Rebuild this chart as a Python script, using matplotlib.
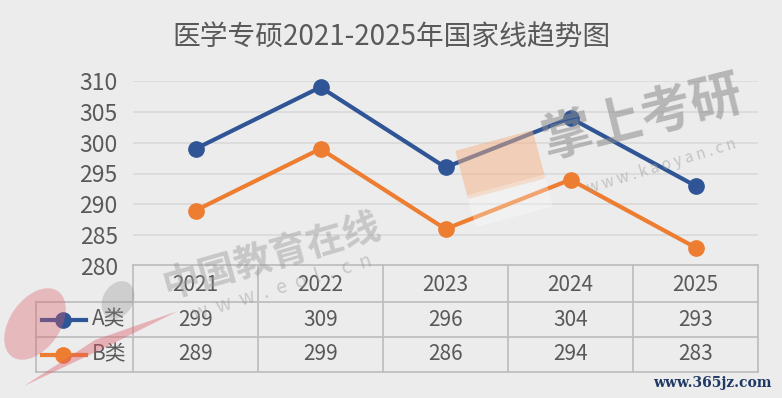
import matplotlib
matplotlib.use("Agg")
import matplotlib.pyplot as plt
from matplotlib.transforms import blended_transform_factory
from matplotlib.lines import Line2D
from matplotlib.patches import FancyBboxPatch, Ellipse, Polygon
import matplotlib.transforms as mtransforms

plt.rcParams['font.family'] = ['Noto Sans CJK SC', 'DejaVu Sans']

title = "医学专硕2021-2025年国家线趋势图"
years = ["2021", "2022", "2023", "2024", "2025"]
series_names = ["A类", "B类"]
a_values = [299, 309, 296, 304, 293]
b_values = [289, 299, 286, 294, 283]
y_ticks = [280, 285, 290, 295, 300, 305, 310]

colors = ["#2f5597", "#ed7d31"]
text_color = "#595959"
bg = "#ececec"
grid_c = "#d9d9d9"
border_c = "#bfbfbf"

W, H = 782, 398
fig = plt.figure(figsize=(W / 100, H / 100), dpi=100, facecolor=bg)

# plot area in pixels
px_left, px_right, px_top, px_bottom = 133, 758, 81, 266
ax = fig.add_axes([px_left / W, 1 - px_bottom / H, (px_right - px_left) / W, (px_bottom - px_top) / H])
ax.set_facecolor(bg)
x = list(range(len(years)))
ax.set_xlim(-0.5, len(years) - 0.5)
ax.set_ylim(y_ticks[0], y_ticks[-1])
ax.set_yticks(y_ticks)
ax.set_yticklabels([str(t) for t in y_ticks], fontsize=16.5, color=text_color)
ax.tick_params(axis='y', length=0, pad=11)
ax.set_xticks([])
for s in ax.spines.values():
    s.set_visible(False)
for t in y_ticks:
    ax.axhline(t, color=grid_c, lw=1.2, zorder=0)

for vals, c in zip([a_values, b_values], colors):
    ax.plot(x, vals, color=c, lw=3, marker='o', markersize=11, clip_on=False, zorder=3)

fig.text(0.5, 1 - 38 / H, title, ha='center', va='center', fontsize=20, color=text_color)

# data table below the axis, x in data coords, y in axes fraction
tr = blended_transform_factory(ax.transData, ax.transAxes)
ph = px_bottom - px_top
def yf(py):
    return (px_bottom - py) / ph

y_top, y_h, y_a, y_b = yf(265), yf(302), yf(337), yf(372)
x_left = -0.5 - (px_left - 36) / 125.0
x0, x1 = -0.5, len(years) - 0.5
lw_t = 1.3
def seg(xs, ys):
    ax.add_line(Line2D(xs, ys, transform=tr, color=border_c, lw=lw_t, clip_on=False, zorder=2))

seg([x0, x1], [y_top, y_top])
seg([x_left, x1], [y_h, y_h])
seg([x_left, x1], [y_a, y_a])
seg([x_left, x1], [y_b, y_b])
seg([x_left, x_left], [y_h, y_b])
for i in range(len(years) + 1):
    seg([i - 0.5, i - 0.5], [y_top, y_b])

fs_t = 15
for i, yr in enumerate(years):
    ax.text(i, (y_top + y_h) / 2 - 0.01, yr, transform=tr, ha='center', va='center', fontsize=fs_t, color=text_color)
for row, (vals, yc) in enumerate([(a_values, (y_h + y_a) / 2), (b_values, (y_a + y_b) / 2)]):
    for i, v in enumerate(vals):
        ax.text(i, yc, str(v), transform=tr, ha='center', va='center', fontsize=fs_t, color=text_color)
    # legend key
    lx0 = -0.5 - (px_left - 42) / 125.0
    lx1 = -0.5 - (px_left - 86) / 125.0
    lxm = -0.5 - (px_left - 63) / 125.0
    ax.add_line(Line2D([lx0, lx1], [yc, yc], transform=tr, color=colors[row], lw=3, clip_on=False))
    ax.add_line(Line2D([lxm], [yc], transform=tr, color=colors[row], marker='o', markersize=11, clip_on=False))
    tx = -0.5 - (px_left - 92) / 125.0
    ax.text(tx, yc, series_names[row], transform=tr, ha='left', va='center', fontsize=fs_t, color=text_color)

# ---- watermarks (drawn over the chart, semi-transparent) ----
# kaoyan icon
cx, cy = 505, 182
rot = mtransforms.Affine2D().rotate_deg_around(cx, H - cy, 15)
top_part = FancyBboxPatch((cx - 38, H - cy - 5), 76, 46, boxstyle="round,pad=2",
                          transform=rot, facecolor='#f4b183', edgecolor='none', alpha=0.5, zorder=5)
bot_part = FancyBboxPatch((cx - 38, H - cy - 34), 76, 29, boxstyle="round,pad=2",
                          transform=rot, facecolor='#ffffff', edgecolor='none', alpha=0.3, zorder=5)
fig.patches.extend([top_part, bot_part])

# eol logo (rough)
ident = mtransforms.IdentityTransform()
red_e = Ellipse((35, H - 324), 50, 80, angle=-35, transform=ident, facecolor='#dc5a66',
                edgecolor='none', alpha=0.35, zorder=5)
gray_o = Ellipse((118, H - 300), 30, 40, angle=-30, transform=ident, facecolor='#8a8a8a',
                 edgecolor='none', alpha=0.3, zorder=5)
swoosh = Polygon([(24, H - 386), (95, H - 340), (178, H - 311), (100, H - 350)], closed=True,
                 transform=ident, facecolor='#dc5a66', edgecolor='none', alpha=0.4, zorder=5)
fig.patches.extend([red_e, gray_o, swoosh])

fig.text(272 / W, 1 - 256 / H, "中国教育在线", ha='center', va='center', fontsize=27, fontweight='bold',
         color='#9a9a9a', alpha=0.45, rotation=16, zorder=6)
fig.text(282 / W, 1 - 288 / H, "w  w  w  .  e  o  l  .  c  n", ha='center', va='center', fontsize=14,
         color='#9a9a9a', alpha=0.45, rotation=17, zorder=6)
fig.text(642 / W, 1 - 118 / H, "掌上考研", ha='center', va='center', fontsize=37, fontweight='bold',
         color='#8a8a8a', alpha=0.55, rotation=14, zorder=6)
fig.text(662 / W, 1 - 166 / H, "w w w . k a o y a n . c n", ha='center', va='center', fontsize=11,
         color='#9a9a9a', alpha=0.5, rotation=17, zorder=6)
fig.text(772 / W, 1 - 383 / H, "www.365jz.com", ha='right', va='center', fontsize=10,
         color='#1f3864', family=['DejaVu Serif'], fontweight='bold', zorder=6)

fig.savefig("out.png", dpi=100, facecolor=bg)
